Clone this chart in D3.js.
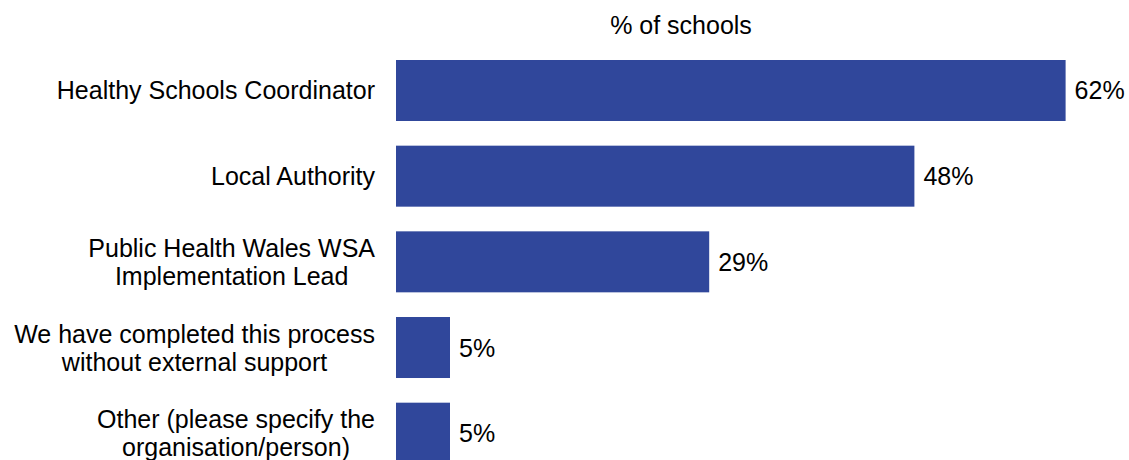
<!DOCTYPE html>
<html>
<head>
<meta charset="utf-8">
<script src="https://cdn.jsdelivr.net/npm/d3@7"></script>
<style>
  html, body { margin: 0; padding: 0; background: #fff; }
  svg { display: block; font-family: "Liberation Sans", Arial, sans-serif; }
</style>
</head>
<body>
<svg id="chart" width="1129" height="460"></svg>
<script>
// Support sources used by schools (share of schools, %)
const categories = [
  ["Healthy Schools Coordinator"],
  ["Local Authority"],
  ["Public Health Wales WSA", "Implementation Lead"],
  ["We have completed this process", "without external support"],
  ["Other (please specify the", "organisation/person)"]
];
const values = [62, 48, 29, 5, 5];
const valueLabels = ["62%", "48%", "29%", "5%", "5%"];
const axisTitle = "% of schools";

const svg = d3.select("#chart");
const barColor = "#30479B";
const fontSize = 25;

const x = d3.scaleLinear().domain([0, 100]).range([396, 396 + 1080]);
const step = 85.67;
const y = d3.scaleBand()
  .domain(d3.range(categories.length))
  .range([60 - step * 0.144, 60 - step * 0.144 + step * 5])
  .paddingInner(0.288)
  .paddingOuter(0.144);

// Title above the bars
svg.append("text")
  .attr("x", 681)
  .attr("y", 25)
  .attr("text-anchor", "middle")
  .attr("dominant-baseline", "central")
  .attr("font-size", fontSize)
  .attr("fill", "#000")
  .text(axisTitle);

// Bars
svg.selectAll("rect.bar")
  .data(values)
  .join("rect")
  .attr("class", "bar")
  .attr("x", x(0))
  .attr("y", (d, i) => y(i))
  .attr("width", d => x(d) - x(0))
  .attr("height", y.bandwidth())
  .attr("fill", barColor);

// Value labels at bar ends
svg.selectAll("text.val")
  .data(values)
  .join("text")
  .attr("class", "val")
  .attr("x", d => x(d) + 9)
  .attr("y", (d, i) => y(i) + y.bandwidth() / 2)
  .attr("dominant-baseline", "central")
  .attr("font-size", fontSize)
  .attr("fill", "#000")
  .text((d, i) => valueLabels[i]);

// Category labels, right-aligned as centred blocks
const lineH = 28;
const labels = svg.selectAll("text.cat")
  .data(categories)
  .join("text")
  .attr("class", "cat")
  .attr("font-size", fontSize)
  .attr("fill", "#000")
  .attr("dominant-baseline", "central");

labels.each(function(lines, i) {
  const t = d3.select(this);
  const cy = y(i) + y.bandwidth() / 2;
  const top = cy - (lines.length - 1) * lineH / 2;
  // measure widest line so multi-line labels are centred within their block
  const widths = lines.map(l => {
    const m = svg.append("text").attr("font-size", fontSize).text(l);
    const w = m.node().getComputedTextLength();
    m.remove();
    return w;
  });
  const maxW = d3.max(widths);
  const right = 375;
  lines.forEach((l, k) => {
    t.append("tspan")
      .attr("x", right - maxW / 2)
      .attr("y", top + k * lineH)
      .attr("text-anchor", "middle")
      .text(l);
  });
});
</script>
</body>
</html>
